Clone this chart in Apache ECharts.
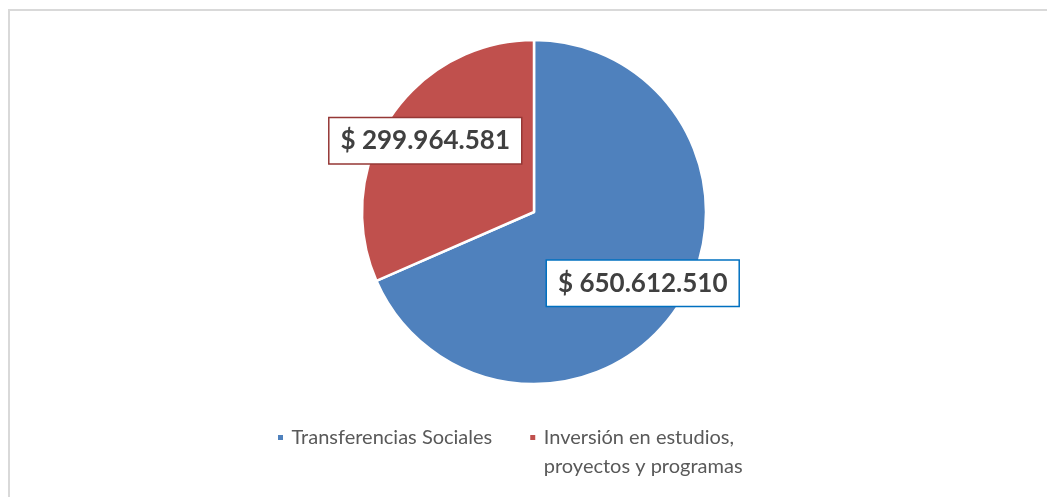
<!DOCTYPE html>
<html>
<head>
<meta charset="utf-8">
<script src="https://cdn.jsdelivr.net/npm/echarts@6/dist/echarts.min.js"></script>
<style>
  html, body { margin: 0; padding: 0; background: #fff; }
  #main { width: 1047px; height: 497px; }
</style>
</head>
<body>
<div id="main"></div>
<script>
var categories = ['Transferencias Sociales', 'Inversión en estudios,\nproyectos y programas'];
var values = [650612510, 299964581];
var colors = ['#4F81BD', '#C0504D'];
var labelBorders = ['#0070C0', '#953735'];

var chartDom = document.getElementById('main');
var myChart = echarts.init(chartDom);
var option;

function money(v) {
  return '$ ' + String(v).replace(/\B(?=(\d{3})+(?!\d))/g, '.');
}

var center = [534, 212];

option = {
  backgroundColor: '#fff',
  animation: false,
  graphic: [
    {
      type: 'rect',
      shape: { x: 9, y: 10, width: 1200, height: 700 },
      style: { fill: 'none', stroke: '#d9d9d9', lineWidth: 2 },
      silent: true
    }
  ],
  legend: {
    left: 276,
    top: 394,
    padding: 0,
    orient: 'horizontal',
    itemWidth: 7,
    itemHeight: 7,
    itemGap: 36,
    icon: 'rect',
    formatter: function (name) {
      // keep the marker on the first text line: empty line above, and pad to 3 lines
      var lines = name.split('\n').map(function (l) { return '\u2009' + l; });
      while (lines.length < 2) lines.push('');
      return '\n' + lines.join('\n');
    },
    textStyle: {
      fontFamily: 'Lato',
      fontSize: 20,
      color: '#595959',
      lineHeight: 29
    },
    data: categories
  },
  series: [
    {
      type: 'pie',
      center: center,
      radius: 172,
      startAngle: 90,
      clockwise: true,
      itemStyle: { borderColor: '#fff', borderWidth: 2.5 },
      label: {
        show: true,
        position: 'inside',
        formatter: function (p) { return money(p.value); },
        fontFamily: 'Lato',
        fontWeight: 'bold',
        fontSize: 26,
        color: '#404040',
        backgroundColor: '#fff',
        borderWidth: 1.5,
        padding: [10, 11, 9, 11]
      },
      labelLayout: function (p) {
        // push label from 0.5r out to ~0.73r along its slice direction
        var cx = p.labelRect.x + p.labelRect.width / 2;
        var cy = p.labelRect.y + p.labelRect.height / 2;
        var k = 0.73 / 0.5 - 1;
        return { dx: (cx - center[0]) * k, dy: (cy - center[1]) * k };
      },
      labelLine: { show: false },
      data: categories.map(function (c, i) {
        return {
          name: c,
          value: values[i],
          itemStyle: { color: colors[i] },
          label: { borderColor: labelBorders[i] }
        };
      })
    }
  ]
};

option && myChart.setOption(option);
</script>
</body>
</html>
